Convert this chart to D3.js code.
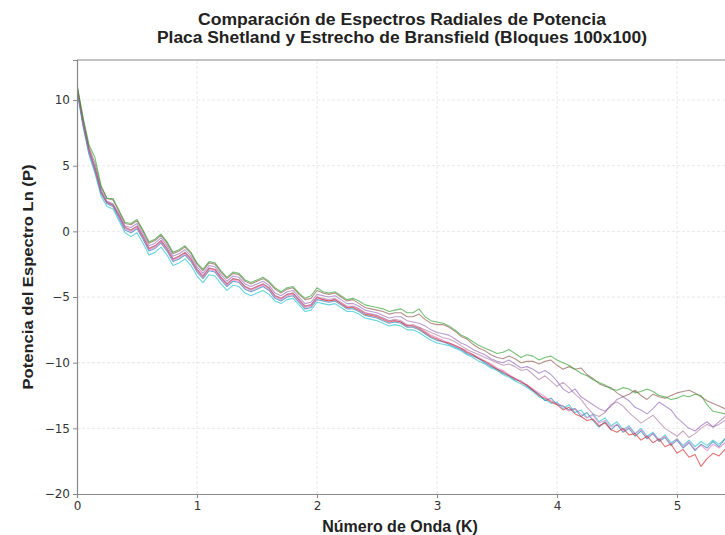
<!DOCTYPE html>
<html>
<head>
<meta charset="utf-8">
<script src="https://cdn.jsdelivr.net/npm/d3@7"></script>
<style>
  html, body { margin: 0; padding: 0; background: #fff; overflow: hidden; }
  svg { display: block; }
</style>
</head>
<body>
<svg id="chart"></svg>
<script>
// número de onda K (muestreo de los espectros)
var kValues = [
  0, 0.05, 0.1, 0.15, 0.2, 0.25, 0.3, 0.35, 0.4, 0.45,
  0.5, 0.55, 0.6, 0.65, 0.7, 0.75, 0.8, 0.85, 0.9, 0.95,
  1, 1.05, 1.1, 1.15, 1.2, 1.25, 1.3, 1.35, 1.4, 1.45,
  1.5, 1.55, 1.6, 1.65, 1.7, 1.75, 1.8, 1.85, 1.9, 1.95,
  2, 2.05, 2.1, 2.15, 2.2, 2.25, 2.3, 2.35, 2.4, 2.45,
  2.5, 2.55, 2.6, 2.65, 2.7, 2.75, 2.8, 2.85, 2.9, 2.95,
  3, 3.05, 3.1, 3.15, 3.2, 3.25, 3.3, 3.35, 3.4, 3.45,
  3.5, 3.55, 3.6, 3.65, 3.7, 3.75, 3.8, 3.85, 3.9, 3.95,
  4, 4.05, 4.1, 4.15, 4.2, 4.25, 4.3, 4.35, 4.4, 4.45,
  4.5, 4.55, 4.6, 4.65, 4.7, 4.75, 4.8, 4.85, 4.9, 4.95,
  5, 5.05, 5.1, 5.15, 5.2, 5.25, 5.3, 5.35, 5.4, 5.45,
  5.5, 5.55, 5.6, 5.65
];

// Ln(P) de cada bloque
var bloqueVerde = [
  11.2, 8.7, 6.6, 5.6, 3.5, 2.5, 2.5, 1.6, 0.7, 0.6,
  0.9, 0.1, -0.8, -0.6, -0.2, -0.8, -1.6, -1.4, -1.1, -1.6,
  -2.4, -2.9, -2.3, -2.4, -3.0, -3.5, -3.1, -3.2, -3.7, -3.9,
  -3.7, -3.5, -3.8, -4.3, -4.6, -4.3, -4.2, -4.7, -5.1, -4.9,
  -4.3, -4.6, -4.7, -4.6, -4.9, -5.2, -5.1, -5.3, -5.6, -5.7,
  -5.8, -5.9, -6.1, -6.0, -5.9, -6.2,
  -6.2, -5.9, -6.5, -6.8, -6.9, -7.0, -7.2, -7.5, -7.9, -8.1,
  -8.4, -8.7, -8.9, -9.1, -9.3, -9.2, -9.0, -9.3, -9.6, -9.4,
  -9.5, -9.8, -9.6, -9.5, -9.8, -10.0, -10.2, -10.5, -10.8, -11.0,
  -11.3, -11.5, -11.7, -12.0, -12.1, -11.9, -12.0, -12.3, -12.2, -12.0,
  -12.2, -12.5, -12.6, -12.8, -12.7, -12.5, -12.6, -12.4, -12.5, -13.2,
  -13.7, -13.8, -13.9, -13.6, -13.5, -13.4, -13.6, -13.5
];
var bloqueMarron = [
  11.1, 8.6, 6.4, 5.2, 3.4, 2.5, 2.4, 1.5, 0.6, 0.5,
  0.8, 0.0, -0.9, -0.7, -0.3, -0.9, -1.7, -1.5, -1.2, -1.7,
  -2.5, -3.0, -2.4, -2.5, -3.1, -3.6, -3.2, -3.3, -3.8, -4.0,
  -3.8, -3.6, -3.9, -4.4, -4.7, -4.4, -4.3, -4.8, -5.2, -5.1,
  -4.5, -4.7, -4.8, -4.7, -5.0, -5.3, -5.2, -5.5, -5.8, -5.9,
  -6.0, -6.1, -6.3, -6.2, -6.2, -6.5,
  -6.5, -6.3, -6.7, -7.0, -7.1, -7.1, -7.3, -7.6, -8.0, -8.2,
  -8.6, -8.9, -9.1, -9.4, -9.6, -9.7, -9.5, -9.7, -10.0, -9.9,
  -9.9, -10.1, -9.9, -9.8, -10.2, -10.5, -10.3, -10.5, -10.4, -10.9,
  -11.2, -11.6, -11.8, -11.9, -12.3, -12.6, -12.4, -12.1, -12.5, -12.8,
  -12.4, -12.6, -12.7, -12.5, -12.3, -12.2, -12.1, -12.3, -12.6, -12.9,
  -13.1, -13.3, -13.5, -13.3, -13.6, -13.8, -13.5, -13.7
];
var bloqueMorado = [
  11.0, 8.4, 6.2, 4.9, 3.2, 2.3, 2.1, 1.3, 0.4, 0.3,
  0.6, -0.2, -1.1, -0.9, -0.5, -1.1, -1.9, -1.7, -1.4, -1.9,
  -2.7, -3.2, -2.6, -2.7, -3.3, -3.8, -3.4, -3.5, -4.0, -4.2,
  -4.0, -3.8, -4.1, -4.7, -4.9, -4.6, -4.5, -5.0, -5.5, -5.4,
  -4.8, -4.9, -5.0, -4.9, -5.2, -5.5, -5.5, -5.7, -6.0, -6.1,
  -6.2, -6.4, -6.6, -6.5, -6.5, -6.8,
  -6.9, -7.0, -7.2, -7.5, -7.7, -7.8, -7.9, -8.2, -8.5, -8.7,
  -9.0, -9.2, -9.4, -9.7, -9.9, -10.0, -9.8, -10.1, -10.4, -10.3,
  -10.5, -10.8, -10.6, -10.9, -11.4, -12.0, -12.3, -12.0, -12.6, -12.9,
  -13.2, -13.5, -13.7, -13.3, -12.8, -12.6, -12.9, -13.4, -13.6, -13.9,
  -13.5, -13.0, -13.3, -13.6, -14.2, -14.6, -15.0, -15.2, -14.8, -14.5,
  -14.9, -14.7, -14.4, -14.6, -14.3, -14.5, -14.2, -14.4
];
var bloqueMalva = [
  10.9, 8.3, 6.1, 4.8, 3.0, 2.2, 2.0, 1.2, 0.3, 0.1,
  0.4, -0.4, -1.3, -1.1, -0.7, -1.3, -2.1, -1.9, -1.6, -2.1,
  -2.9, -3.4, -2.8, -2.9, -3.5, -4.0, -3.6, -3.7, -4.2, -4.4,
  -4.2, -4.0, -4.3, -4.9, -5.1, -4.8, -4.7, -5.2, -5.7, -5.6,
  -5.0, -5.1, -5.2, -5.1, -5.4, -5.7, -5.7, -5.9, -6.2, -6.3,
  -6.4, -6.6, -6.8, -6.7, -6.8, -7.1,
  -7.2, -7.3, -7.5, -7.7, -7.9, -8.1, -8.2, -8.4, -8.7, -9.0,
  -9.2, -9.4, -9.6, -9.8, -10.0, -10.2, -10.1, -10.3, -10.6, -10.5,
  -10.9, -11.3, -11.0, -11.4, -11.8, -11.5, -11.9, -12.4, -12.8, -13.4,
  -13.9, -14.1, -13.8, -13.2, -13.0, -13.3, -13.8, -14.2, -14.6, -14.3,
  -14.0, -14.5, -15.0, -15.3, -15.6, -15.2, -15.7, -15.4, -15.0, -14.7,
  -14.9, -14.5, -14.1, -14.3, -14.0, -14.2, -14.4, -14.1
];
var bloqueAzul = [
  10.8, 8.1, 6.0, 4.6, 2.9, 2.1, 1.9, 1.0, 0.1, -0.1,
  0.2, -0.6, -1.5, -1.3, -0.9, -1.5, -2.3, -2.1, -1.8, -2.3,
  -3.1, -3.6, -3.0, -3.1, -3.7, -4.2, -3.8, -3.9, -4.4, -4.6,
  -4.4, -4.2, -4.5, -5.1, -5.3, -5.0, -4.9, -5.4, -5.9, -5.8,
  -5.2, -5.3, -5.4, -5.3, -5.6, -5.9, -5.9, -6.1, -6.4, -6.5,
  -6.6, -6.8, -7.0, -6.9, -7.0, -7.3,
  -7.3, -7.5, -7.8, -8.1, -8.3, -8.4, -8.6, -8.8, -9.0, -9.3,
  -9.5, -9.7, -10.0, -10.3, -10.5, -10.8, -11.0, -11.3, -11.4, -11.8,
  -12.1, -12.4, -12.9, -12.7, -13.2, -13.3, -13.6, -13.5, -14.1, -13.8,
  -14.4, -14.9, -14.5, -15.1, -14.7, -15.3, -15.0, -15.6, -15.2, -15.8,
  -15.4, -16.0, -15.7, -16.3, -15.9, -16.5, -16.1, -16.7, -16.2, -16.5,
  -16.0, -16.4, -15.8, -16.2, -15.9, -16.3, -15.7, -16.0
];
var bloqueRojo = [
  11.0, 8.3, 6.2, 4.8, 3.0, 2.2, 2.0, 1.2, 0.3, 0.1,
  0.4, -0.4, -1.3, -1.1, -0.7, -1.3, -2.1, -1.9, -1.6, -2.1,
  -2.9, -3.4, -2.8, -2.9, -3.5, -4.0, -3.6, -3.7, -4.2, -4.4,
  -4.2, -4.0, -4.3, -4.9, -5.1, -4.8, -4.7, -5.2, -5.7, -5.6,
  -5.0, -5.2, -5.3, -5.2, -5.5, -5.8, -5.8, -6.0, -6.3, -6.4,
  -6.5, -6.7, -6.9, -6.8, -6.9, -7.2,
  -7.2, -7.4, -7.7, -8.0, -8.2, -8.4, -8.5, -8.7, -8.9, -9.2,
  -9.4, -9.7, -9.9, -10.2, -10.5, -10.7, -11.0, -11.2, -11.5, -11.7,
  -12.1, -12.5, -12.7, -13.0, -13.2, -13.6, -13.4, -13.9, -14.1, -14.4,
  -14.3, -14.8, -14.6, -15.1, -15.3, -15.0, -15.5, -15.4, -15.9, -15.6,
  -16.1, -15.8, -16.4, -16.2, -16.9, -16.6, -17.2, -17.0, -17.9, -17.3,
  -16.9, -17.1, -16.6, -16.9, -16.4, -16.7, -16.3, -16.5
];
var bloqueRosa = [
  11.1, 8.2, 6.0, 4.7, 3.0, 2.2, 2.0, 1.1, 0.2, 0.0,
  0.3, -0.5, -1.4, -1.2, -0.8, -1.4, -2.2, -2.0, -1.7, -2.2,
  -3.0, -3.5, -2.9, -3.0, -3.6, -4.1, -3.7, -3.8, -4.3, -4.5,
  -4.3, -4.1, -4.4, -5.0, -5.2, -4.9, -4.8, -5.3, -5.8, -5.7,
  -5.1, -5.2, -5.3, -5.2, -5.5, -5.8, -5.7, -5.9, -6.2, -6.3,
  -6.4, -6.6, -6.8, -6.8, -6.9, -7.2,
  -7.1, -7.3, -7.6, -7.9, -8.1, -8.3, -8.5, -8.7, -8.9, -9.1,
  -9.4, -9.6, -9.9, -10.1, -10.4, -10.6, -10.9, -11.2, -11.4, -11.7,
  -12.0, -12.3, -12.6, -12.9, -13.1, -13.3, -13.7, -13.5, -13.9, -14.2,
  -14.0, -14.6, -14.4, -14.9, -14.7, -15.2, -14.9, -15.4, -15.1, -15.7,
  -15.4, -15.9, -15.6, -16.2, -15.8, -16.4, -16.0, -16.6, -16.3, -16.7,
  -16.2, -16.5, -16.1, -16.4, -16.0, -16.3, -15.9, -16.1
];
var bloqueCian = [
  10.7, 8.0, 5.8, 4.4, 2.7, 1.9, 1.7, 0.8, -0.1, -0.4,
  -0.1, -0.9, -1.8, -1.6, -1.2, -1.8, -2.6, -2.4, -2.1, -2.6,
  -3.4, -3.9, -3.3, -3.4, -4.0, -4.5, -4.1, -4.2, -4.7, -4.9,
  -4.7, -4.5, -4.8, -5.3, -5.5, -5.2, -5.1, -5.6, -6.1, -6.0,
  -5.4, -5.5, -5.6, -5.5, -5.8, -6.1, -6.1, -6.3, -6.6, -6.7,
  -6.8, -7.0, -7.2, -7.1, -7.2, -7.5,
  -7.5, -7.7, -8.0, -8.3, -8.5, -8.6, -8.7, -8.9, -9.1, -9.4,
  -9.6, -9.9, -10.1, -10.4, -10.6, -10.9, -11.1, -11.4, -11.6, -11.9,
  -12.2, -12.6, -12.8, -13.1, -13.0, -13.5, -13.2, -13.8, -13.6, -14.2,
  -13.9, -14.5, -14.2, -14.8, -14.5, -15.1, -14.8, -15.4, -15.0, -15.6,
  -15.3, -15.9, -15.5, -16.1, -15.8, -16.3, -15.9, -16.4, -16.0, -16.3,
  -15.9, -16.2, -15.8, -16.1, -15.7, -16.0, -15.6, -15.9
];

var yTicks = [-20, -15, -10, -5, 0, 5, 10];
var xTicks = [0, 1, 2, 3, 4, 5];

var series = [
  { values: bloqueCian, color: "#17becf" },
  { values: bloqueAzul, color: "#1f77b4" },
  { values: bloqueRosa, color: "#e377c2" },
  { values: bloqueRojo, color: "#d62728" },
  { values: bloqueMalva, color: "#b07aa1" },
  { values: bloqueMorado, color: "#9467bd" },
  { values: bloqueMarron, color: "#8c564b" },
  { values: bloqueVerde, color: "#2ca02c" }
];

var width = 725, height = 535;
var margin = { top: 60, right: 0, bottom: 41, left: 77 };

var svg = d3.select("#chart").attr("width", width).attr("height", height);

var x = d3.scaleLinear().domain([0, 5.4]).range([margin.left, width - margin.right]);
var y = d3.scaleLinear().domain([-20, 13.05]).range([height - margin.bottom, margin.top]);

function minus(v) {
  return v < 0 ? "\u2212" + Math.abs(v) : "" + v;
}

// grid
var grid = svg.append("g")
  .attr("stroke", "#e2e2e2")
  .attr("stroke-width", 0.8)
  .attr("stroke-dasharray", "3,2");
grid.selectAll("line.gx")
  .data(xTicks.filter(function(d) { return d > 0; }))
  .enter().append("line")
  .attr("x1", function(d) { return x(d); })
  .attr("x2", function(d) { return x(d); })
  .attr("y1", y.range()[0])
  .attr("y2", y.range()[1]);
grid.selectAll("line.gy")
  .data(yTicks.filter(function(d) { return d > -20; }))
  .enter().append("line")
  .attr("x1", x.range()[0])
  .attr("x2", x.range()[1])
  .attr("y1", function(d) { return y(d); })
  .attr("y2", function(d) { return y(d); });

// clip for the lines
svg.append("defs").append("clipPath").attr("id", "plot-clip")
  .append("rect")
  .attr("x", x.range()[0])
  .attr("y", y.range()[1])
  .attr("width", x.range()[1] - x.range()[0])
  .attr("height", y.range()[0] - y.range()[1]);

var line = d3.line()
  .x(function(d) { return x(d[0]); })
  .y(function(d) { return y(d[1]); });

svg.append("g")
  .attr("clip-path", "url(#plot-clip)")
  .selectAll("path")
  .data(series)
  .enter().append("path")
  .attr("d", function(s) {
    return line(d3.zip(kValues, s.values));
  })
  .attr("fill", "none")
  .attr("stroke", function(s) { return s.color; })
  .attr("stroke-width", 1.1)
  .attr("stroke-opacity", 0.65)
  .attr("stroke-linejoin", "round");

// axes
var xAxis = svg.append("g")
  .attr("transform", "translate(0," + y.range()[0] + ")")
  .call(d3.axisBottom(x).tickValues(xTicks).tickSize(4).tickPadding(3).tickFormat(d3.format("d")));
var yAxis = svg.append("g")
  .attr("transform", "translate(" + x.range()[0] + ",0)")
  .call(d3.axisLeft(y).tickValues(yTicks).tickSize(4).tickPadding(3).tickFormat(minus));

[xAxis, yAxis].forEach(function(a) {
  a.select(".domain").attr("stroke", "#888").attr("stroke-width", 1.2);
  a.selectAll(".tick line").attr("stroke", "#888");
  a.selectAll(".tick text")
    .attr("fill", "#333")
    .style("font-family", "DejaVu Sans, sans-serif")
    .style("font-size", "12px");
});

// top spine
svg.append("line")
  .attr("x1", x.range()[0])
  .attr("x2", x.range()[1])
  .attr("y1", y.range()[1])
  .attr("y2", y.range()[1])
  .attr("stroke", "#888")
  .attr("stroke-width", 1.2);

// titles
var title = svg.append("g")
  .style("font-family", "Liberation Sans, Arial, sans-serif")
  .style("font-weight", "bold")
  .style("font-size", "16px")
  .attr("fill", "#222");
title.append("text").attr("x", 402).attr("y", 25)
  .attr("text-anchor", "middle")
  .attr("textLength", 408).attr("lengthAdjust", "spacingAndGlyphs")
  .text("Comparación de Espectros Radiales de Potencia");
title.append("text").attr("x", 402).attr("y", 43)
  .attr("text-anchor", "middle")
  .attr("textLength", 490).attr("lengthAdjust", "spacingAndGlyphs")
  .text("Placa Shetland y Estrecho de Bransfield (Bloques 100x100)");

svg.append("text")
  .attr("x", 400)
  .attr("y", 532)
  .attr("text-anchor", "middle")
  .style("font-family", "Liberation Sans, Arial, sans-serif")
  .style("font-weight", "bold")
  .style("font-size", "16px")
  .attr("fill", "#222")
  .text("Número de Onda (K)");

svg.append("text")
  .attr("transform", "translate(33,277) rotate(-90)")
  .attr("text-anchor", "middle")
  .attr("textLength", 225).attr("lengthAdjust", "spacingAndGlyphs")
  .style("font-family", "Liberation Sans, Arial, sans-serif")
  .style("font-weight", "bold")
  .style("font-size", "15.5px")
  .attr("fill", "#222")
  .text("Potencia del Espectro Ln (P)");
</script>
</body>
</html>
